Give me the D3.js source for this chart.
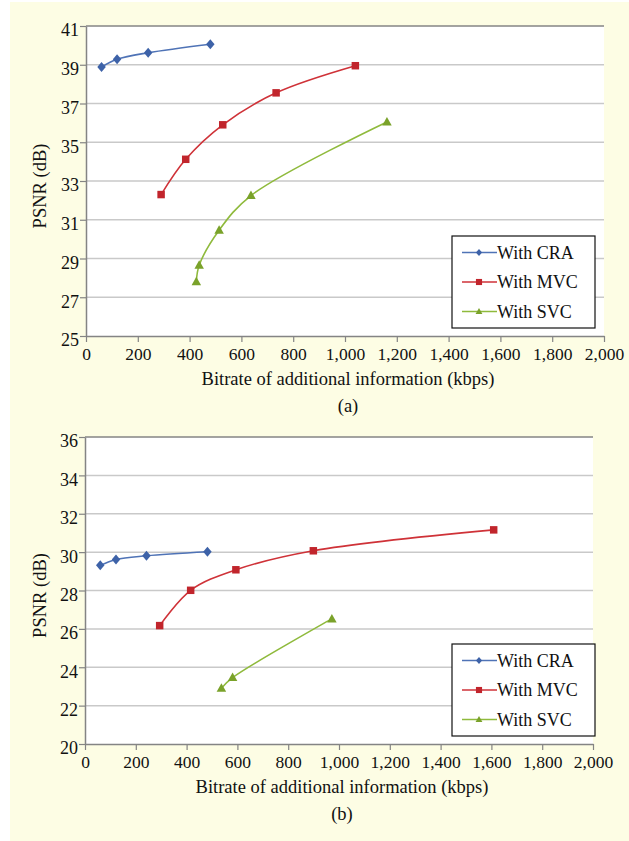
<!DOCTYPE html>
<html>
<head>
<meta charset="utf-8">
<script src="https://cdn.jsdelivr.net/npm/d3@7"></script>
<style>
  html, body { margin: 0; padding: 0; background: #ffffff; }
  svg { display: block; }
  text { font-family: "Liberation Serif", "Times New Roman", serif; fill: #111111; }
</style>
</head>
<body>
<svg id="chart" width="629" height="841"></svg>
<script>
// ---------- data ----------
const seriesNames = ["With CRA", "With MVC", "With SVC"];
const xTickValues = [0, 200, 400, 600, 800, 1000, 1200, 1400, 1600, 1800, 2000];
const yTicksA = [25, 27, 29, 31, 33, 35, 37, 39, 41];
const yTicksB = [20, 22, 24, 26, 28, 30, 32, 34, 36];
const panelLabels = ["(a)", "(b)"];
const xAxisTitle = "Bitrate of additional information (kbps)";
const yAxisTitle = "PSNR (dB)";

// chart (a): [bitrate kbps, PSNR dB]
const aCRA = [[60, 38.88], [120, 39.28], [240, 39.62], [480, 40.06]];
const aMVC = [[290, 32.3], [385, 34.12], [528, 35.9], [734, 37.55], [1040, 38.95]];
const aSVC = [[426, 27.8], [437, 28.65], [514, 30.46], [637, 32.25], [1162, 36.05]];

// chart (b)
const bCRA = [[60, 29.31], [122, 29.62], [242, 29.81], [482, 30.02]];
const bMVC = [[294, 26.17], [416, 28.01], [594, 29.08], [899, 30.07], [1609, 31.16]];
const bSVC = [[537, 22.91], [581, 23.46], [972, 26.52]];

// ---------- styles ----------
const lineColors = ["#4f73b6", "#cf3238", "#8fba3c"];
const markerColors = ["#3d62a8", "#c1252c", "#7aa22a"];
const markerTypes = ["diamond", "square", "triangle"];

const svg = d3.select("#chart");

svg.append("rect")
  .attr("x", 10).attr("y", 2).attr("width", 619).attr("height", 839)
  .attr("fill", "#fdfde4");

const fmt = d3.format(",");

function marker(g, type, x, y, color, s) {
  if (type === "diamond") {
    g.append("path")
      .attr("d", `M${x},${y - s}L${x + s * 0.85},${y}L${x},${y + s}L${x - s * 0.85},${y}Z`)
      .attr("fill", color);
  } else if (type === "square") {
    g.append("rect")
      .attr("x", x - s * 0.85).attr("y", y - s * 0.85)
      .attr("width", s * 1.7).attr("height", s * 1.7)
      .attr("fill", color);
  } else {
    g.append("path")
      .attr("d", `M${x},${y - s}L${x + s * 0.95},${y + s * 0.7}L${x - s * 0.95},${y + s * 0.7}Z`)
      .attr("fill", color);
  }
}

function drawChart(cfg) {
  const { left, top, right, bottom, yDomain, yTicks, series, label, legend } = cfg;
  const x = d3.scaleLinear().domain([0, 2000]).range([left, right]);
  const y = d3.scaleLinear().domain(yDomain).range([bottom, top]);
  const g = svg.append("g");

  // plot area
  g.append("rect")
    .attr("x", left).attr("y", top)
    .attr("width", right - left).attr("height", bottom - top)
    .attr("fill", "#ffffff");

  // gridlines
  g.selectAll(".grid").data(yTicks.slice(1, -1)).enter().append("line")
    .attr("x1", left).attr("x2", right)
    .attr("y1", d => y(d)).attr("y2", d => y(d))
    .attr("stroke", "#c9c9c9").attr("stroke-width", 1.5);

  // top border
  g.append("line")
    .attr("x1", left).attr("x2", right).attr("y1", top).attr("y2", top)
    .attr("stroke", "#848484").attr("stroke-width", 1.5);

  // y axis
  const yAxis = d3.axisLeft(y).tickValues(yTicks).tickSize(6).tickSizeOuter(0).tickFormat(d3.format("d"));
  const ya = g.append("g").attr("transform", `translate(${left},0)`).call(yAxis);
  ya.select(".domain").attr("stroke", "#848484").attr("stroke-width", 1.5);
  ya.selectAll(".tick line").attr("stroke", "#848484").attr("stroke-width", 1.2);
  ya.selectAll(".tick text")
    .attr("x", -7).attr("dy", "0.55em")
    .style("font-family", "Liberation Serif, serif")
    .style("font-size", "18px").attr("fill", "#111111");

  // x axis
  const xAxis = d3.axisBottom(x).tickValues(xTickValues).tickSize(6).tickSizeOuter(0).tickFormat(fmt);
  const xa = g.append("g").attr("transform", `translate(0,${bottom})`).call(xAxis);
  xa.select(".domain").attr("stroke", "#848484").attr("stroke-width", 1.5);
  xa.selectAll(".tick line").attr("stroke", "#848484").attr("stroke-width", 1.2);
  xa.selectAll(".tick text")
    .attr("y", 24).attr("dy", 0)
    .style("font-family", "Liberation Serif, serif")
    .style("font-size", "17.5px").attr("fill", "#111111");

  // axis titles
  g.append("text")
    .attr("transform", `translate(46,${(top + bottom) / 2 + 5}) rotate(-90)`)
    .attr("text-anchor", "middle")
    .style("font-size", "18.5px")
    .text(yAxisTitle);
  g.append("text")
    .attr("x", (left + right) / 2 + 3).attr("y", bottom + 49)
    .attr("text-anchor", "middle")
    .style("font-size", "18.5px")
    .text(xAxisTitle);
  g.append("text")
    .attr("x", (left + right) / 2 + 3).attr("y", bottom + 76)
    .attr("text-anchor", "middle")
    .style("font-size", "18.5px")
    .text(label);

  // series
  const line = d3.line().x(d => x(d[0])).y(d => y(d[1])).curve(d3.curveCatmullRom.alpha(0.5));
  series.forEach((data, i) => {
    g.append("path").datum(data)
      .attr("d", line)
      .attr("fill", "none")
      .attr("stroke", lineColors[i])
      .attr("stroke-width", 1.6);
    const mg = g.append("g");
    data.forEach(d => marker(mg, markerTypes[i], x(d[0]), y(d[1]), markerColors[i], i === 1 ? 4.4 : 5));
  });

  // legend
  const lg = g.append("g");
  lg.append("rect")
    .attr("x", legend.x).attr("y", legend.y)
    .attr("width", 143).attr("height", 92)
    .attr("fill", "#ffffff").attr("stroke", "#111111").attr("stroke-width", 1.2);
  seriesNames.forEach((name, i) => {
    const cy = legend.y + 16.5 + i * 29.5;
    lg.append("line")
      .attr("x1", legend.x + 10).attr("x2", legend.x + 45)
      .attr("y1", cy).attr("y2", cy)
      .attr("stroke", lineColors[i]).attr("stroke-width", 1.6);
    marker(lg, markerTypes[i], legend.x + 27, cy, markerColors[i], 3.6);
    lg.append("text")
      .attr("x", legend.x + 45).attr("y", cy + 6)
      .style("font-size", "18px")
      .text(name);
  });
}

drawChart({
  left: 86, top: 26, right: 604, bottom: 336,
  yDomain: [25, 41], yTicks: yTicksA,
  series: [aCRA, aMVC, aSVC],
  label: panelLabels[0],
  legend: { x: 452, y: 236 }
});

drawChart({
  left: 85, top: 437, right: 593, bottom: 744,
  yDomain: [20, 36], yTicks: yTicksB,
  series: [bCRA, bMVC, bSVC],
  label: panelLabels[1],
  legend: { x: 452, y: 644 }
});
</script>
</body>
</html>
